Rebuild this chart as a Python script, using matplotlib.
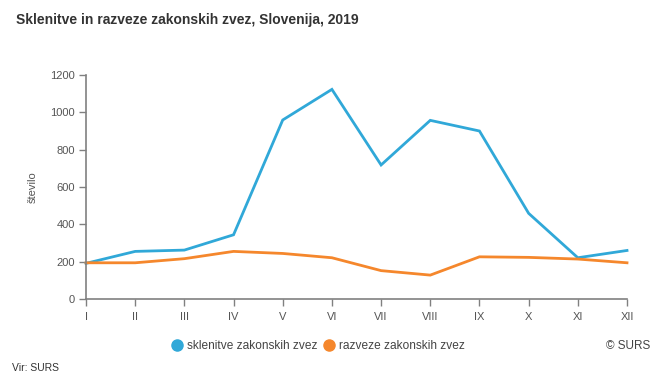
import matplotlib
matplotlib.use("Agg")
import matplotlib.pyplot as plt
from matplotlib.lines import Line2D

plt.rcParams['font.family'] = ['Liberation Sans', 'DejaVu Sans']

months = ["I", "II", "III", "IV", "V", "VI", "VII", "VIII", "IX", "X", "XI", "XII"]
sklenitve = [191, 255, 262, 344, 959, 1123, 718, 957, 900, 459, 221, 260]
razveze = [194, 194, 216, 255, 244, 221, 152, 128, 226, 223, 214, 194]
yticks = [0, 200, 400, 600, 800, 1000, 1200]

c_blue = "#30a8d8"
c_orange = "#f5872c"
gray = "#555555"

fig = plt.figure(figsize=(6.64, 3.88), dpi=100)
ax = fig.add_axes([86/664, 1-299/388, (627-86)/664, (299-75)/388])

x = list(range(len(months)))
ax.plot(x, sklenitve, color=c_blue, lw=2, solid_joinstyle='miter', clip_on=False)
ax.plot(x, razveze, color=c_orange, lw=2, solid_joinstyle='miter', clip_on=False)

ax.set_xlim(0, len(months) - 1)
ax.set_ylim(0, 1200)
ax.set_xticks(x)
ax.set_xticklabels(months)
ax.set_yticks(yticks)
ax.set_yticklabels([str(v) for v in yticks])

for s in ["top", "right"]:
    ax.spines[s].set_visible(False)
for s in ["left", "bottom"]:
    ax.spines[s].set_color("#808080")
    ax.spines[s].set_linewidth(1.2)
ax.tick_params(axis="both", colors="#808080", labelcolor=gray, labelsize=8, length=5, width=1)
ax.tick_params(axis="x", pad=4)
ax.tick_params(axis="y", pad=3)

ax.set_ylabel("število", fontsize=8, color=gray, labelpad=9)

fig.text(16/664, 1-20/388, "Sklenitve in razveze zakonskih zvez, Slovenija, 2019",
         fontsize=10, fontweight="bold", color="#333333", va="center", ha="left")

handles = [Line2D([], [], ls="none", marker="o", ms=8, color=c_blue),
           Line2D([], [], ls="none", marker="o", ms=8, color=c_orange)]
fig.legend(handles, ["sklenitve zakonskih zvez", "razveze zakonskih zvez"],
           loc="center", bbox_to_anchor=(318/664, 1-346/388), ncol=2, frameon=False,
           fontsize=8.6, labelcolor="#444444", handletextpad=0.3, columnspacing=0.5,
           handlelength=1.0)

fig.text(650/664, 1-346/388, "© SURS", fontsize=8.5, color="#444444", ha="right", va="center")
fig.text(12/664, 1-368/388, "Vir: SURS", fontsize=7.5, color="#333333", ha="left", va="center")

fig.savefig("out.png", dpi=100, facecolor="white")
